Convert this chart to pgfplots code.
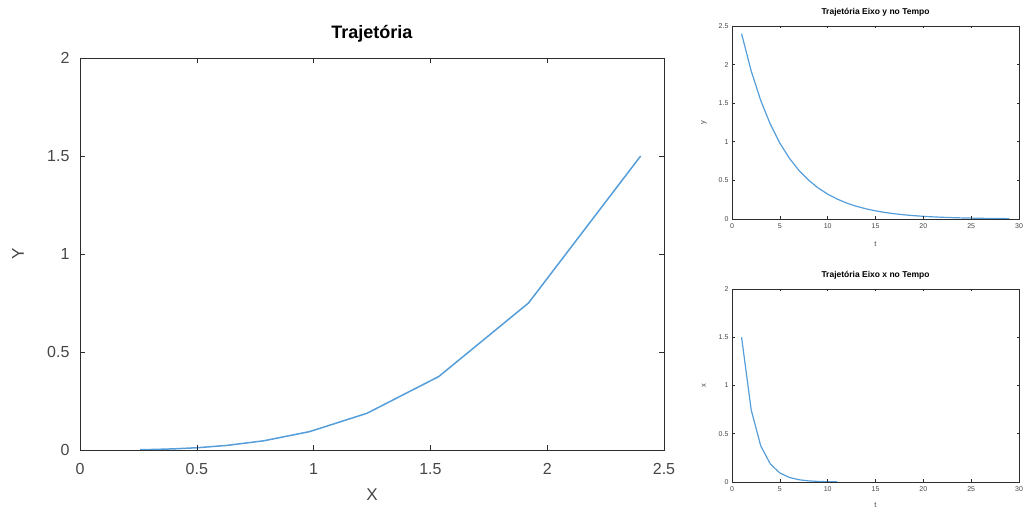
\documentclass[border=0pt]{standalone}
\usepackage{pgfplots}
\pgfplotsset{compat=1.18}
\usepackage{fontspec}
\setmainfont{Liberation Sans}
\definecolor{lineblue}{RGB}{85,158,218}
\definecolor{axgray}{RGB}{45,45,45}
\definecolor{labgray}{RGB}{70,70,70}
\begin{document}
\begin{tikzpicture}
\path[use as bounding box] (0pt,0pt) rectangle (1025pt,508pt);
\pgfplotsset{
  octave/.style={
    scale only axis,
    axis on top,
    /pgf/number format/assume math mode=true,
    axis line style={color=axgray,line width=0.7pt},
    tick style={color=axgray,line width=0.6pt},
    tick align=inside,
    xtick pos=both, ytick pos=both,
    ticklabel style={color=labgray},
    label style={color=labgray},
  }
}
% main plot
\begin{axis}[octave,
  at={(80pt,58pt)}, anchor=south west,
  width=584pt, height=392pt,
  xmin=0, xmax=2.5, ymin=0, ymax=2,
  xtick={0,0.5,1,1.5,2,2.5}, ytick={0,0.5,1,1.5,2},
  major tick length=5pt,
  ticklabel style={font=\fontsize{16}{18}\selectfont},
  xticklabel style={yshift=-10pt},
  yticklabel style={xshift=-7pt},
  title={\textbf{Trajetória}},
  title style={font=\fontsize{18}{20}\selectfont, at={(axis description cs:0.5,1)}, anchor=center, yshift=18pt},
  xlabel={X}, ylabel={Y},
  label style={font=\fontsize{17}{19}\selectfont},
  xlabel style={at={(axis description cs:0.5,0)}, anchor=center, yshift=-45pt},
  ylabel style={at={(axis description cs:0,0.5)}, anchor=center, yshift=62pt},
]
\addplot[lineblue, line width=1.5pt] coordinates {
(2.4,1.5) (1.92,0.75) (1.536,0.375) (1.2288,0.1875) (0.98304,0.09375)
(0.786432,0.046875) (0.6291456,0.0234375) (0.50331648,0.01171875)
(0.402653184,0.005859375) (0.322122547,0.0029296875) (0.257698038,0.00146484375)
};
\end{axis}
% top right
\begin{axis}[octave,
  at={(732pt,289pt)}, anchor=south west,
  width=287pt, height=193pt,
  xmin=0, xmax=30, ymin=0, ymax=2.5,
  xtick={0,5,10,15,20,25,30}, ytick={0,0.5,1,1.5,2,2.5},
  major tick length=2.5pt,
  axis line style={line width=0.5pt},
  ticklabel style={font=\fontsize{7}{8}\selectfont},
  xticklabel style={yshift=-1pt},
  title={\textbf{Trajetória Eixo y no Tempo}},
  title style={font=\fontsize{8.5}{9}\selectfont, at={(axis description cs:0.5,1)}, anchor=center, yshift=8pt},
  xlabel={t}, ylabel={y},
  label style={font=\fontsize{7.5}{8}\selectfont},
  xlabel style={at={(axis description cs:0.5,0)}, anchor=center, yshift=-25pt},
  ylabel style={at={(axis description cs:0,0.5)}, anchor=center, yshift=28pt},
]
\addplot[lineblue, line width=1.2pt] coordinates {
(1,2.4) (2,1.92) (3,1.536) (4,1.2288) (5,0.98304) (6,0.786432) (7,0.6291456)
(8,0.50331648) (9,0.402653184) (10,0.322122547) (11,0.257698038) (12,0.20615843)
(13,0.164926744) (14,0.131941395) (15,0.105553116) (16,0.084442493) (17,0.067553994)
(18,0.054043196) (19,0.043234556) (20,0.034587645) (21,0.027670116) (22,0.022136093)
(23,0.017708874) (24,0.0141671) (25,0.01133368) (26,0.009066944) (27,0.007253555)
(28,0.005802844) (29,0.004642275)
};
\end{axis}
% bottom right
\begin{axis}[octave,
  at={(732pt,26pt)}, anchor=south west,
  width=287pt, height=193pt,
  xmin=0, xmax=30, ymin=0, ymax=2,
  xtick={0,5,10,15,20,25,30}, ytick={0,0.5,1,1.5,2},
  major tick length=2.5pt,
  axis line style={line width=0.5pt},
  ticklabel style={font=\fontsize{7}{8}\selectfont},
  xticklabel style={yshift=-1pt},
  title={\textbf{Trajetória Eixo x no Tempo}},
  title style={font=\fontsize{8.5}{9}\selectfont, at={(axis description cs:0.5,1)}, anchor=center, yshift=8pt},
  xlabel={t}, ylabel={x},
  label style={font=\fontsize{7.5}{8}\selectfont},
  xlabel style={at={(axis description cs:0.5,0)}, anchor=center, yshift=-23pt},
  ylabel style={at={(axis description cs:0,0.5)}, anchor=center, yshift=28pt},
]
\addplot[lineblue, line width=1.2pt] coordinates {
(1,1.5) (2,0.75) (3,0.375) (4,0.1875) (5,0.09375) (6,0.046875) (7,0.0234375)
(8,0.01171875) (9,0.005859375) (10,0.0029296875) (11,0.00146484375)
};
\end{axis}
\end{tikzpicture}
\end{document}
